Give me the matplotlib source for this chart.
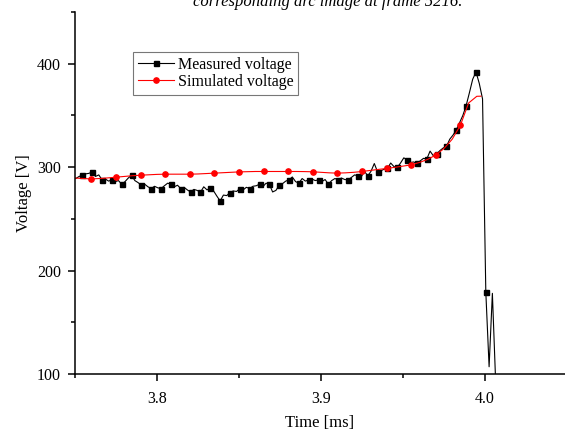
import numpy as np
import matplotlib
matplotlib.use("Agg")
import matplotlib.pyplot as plt
from matplotlib.ticker import MultipleLocator

plt.rcParams['font.family'] = ['Liberation Serif', 'DejaVu Serif']

# measured voltage: samples every 0.002 ms starting at 3.7505 ms
meas_start = 3.7505
meas_step = 0.002
meas_v = [
    289, 291, 292, 293.5, 294, 295.4, 291, 292.5, 287.7, 288.5,
    286.5, 287.7, 286, 287, 283.5, 286, 289.5, 292.2, 287, 285,
    282.5, 283.5, 281, 279.3, 281.5, 280, 279.3, 282, 284.5, 283.5,
    281, 282.5, 279.3, 280.5, 278, 276, 278.5, 277.5, 275.7, 281,
    278, 280, 277, 272, 267.3, 273, 272.5, 275.4, 277, 276.5,
    279.3, 278, 280.5, 279.3, 281.5, 282, 283.5, 281, 284.5, 283.5,
    276, 277.5, 282.5, 284, 286.5, 287.7, 290.5, 286, 284.5, 289,
    286.5, 287.7, 288.5, 287, 287.7, 286, 288, 283.5, 287, 289,
    287.7, 289.5, 288, 287.7, 290, 292.5, 291.6, 290.5, 296, 291.6,
    296, 303.5, 295.4, 296.5, 298, 298.7, 304, 300.5, 299.7, 304,
    309, 307.1, 304.5, 305, 303.6, 306, 308.5, 307.8, 315.5, 311,
    312.5, 316, 318.5, 320, 327, 331, 336, 343, 350, 359.5,
    372, 385, 392, 381, 366, 179, 107, 178, 92,
]
meas_t = meas_start + meas_step * np.arange(len(meas_v))

# simulated voltage: every 0.005 ms plus the end point
sim_t = list(np.round(np.arange(3.75, 3.9951, 0.005), 4)) + [3.9975]
sim_v = [
    289.5, 289.0, 288.6, 289.0, 289.6, 290.3, 291.0, 291.7, 292.2, 292.6,
    293.0, 293.2, 293.2, 293.2, 293.2, 293.4, 293.8, 294.2, 294.6, 295.0,
    295.4, 295.6, 295.8, 295.8, 295.8, 295.8, 295.8, 295.8, 295.7, 295.5,
    295.0, 294.5, 294.2, 294.5, 295.0, 295.8, 296.8, 297.8, 298.7, 299.8,
    301.0, 302.2, 304.5, 307.5, 311.7, 318.0, 327.0, 340.5, 362.0, 368.5,
    368.6,
]

fig = plt.figure(figsize=(5.65, 4.30), dpi=100)
ax = fig.add_axes([75 / 565, 56 / 430, 490 / 565, 362 / 430])

ax.plot(meas_t, meas_v, color='black', lw=0.8, marker='s', ms=3.6,
        markevery=list(range(2, 126, 3)), label='Measured voltage')
ax.plot(sim_t, sim_v, color='red', lw=0.8, marker='o', ms=3.8,
        markevery=list(range(2, 48, 3)), label='Simulated voltage')

ax.set_xlim(3.75, 3.75 + 490 / 1640)
ax.set_ylim(100, 450)
ax.xaxis.set_major_locator(MultipleLocator(0.1))
ax.xaxis.set_minor_locator(MultipleLocator(0.05))
ax.yaxis.set_major_locator(MultipleLocator(100))
ax.yaxis.set_minor_locator(MultipleLocator(50))
ax.xaxis.set_major_formatter(matplotlib.ticker.FormatStrFormatter('%.1f'))

ax.spines['top'].set_visible(False)
ax.spines['right'].set_visible(False)
for s in ('left', 'bottom'):
    ax.spines[s].set_linewidth(1.1)
ax.tick_params(which='major', direction='out', length=5, width=1.1,
               labelsize=11.5, pad=5)
ax.tick_params(axis='x', which='major', pad=7)
ax.tick_params(which='minor', direction='out', length=3, width=1.1)

ax.set_xlabel('Time [ms]', fontsize=12, labelpad=6)
ax.set_ylabel('Voltage [V]', fontsize=12, labelpad=4)

leg = ax.legend(loc='upper left', bbox_to_anchor=(0.118, 0.889),
                borderaxespad=0, fancybox=False, fontsize=11.5,
                handlelength=2.3, handletextpad=0.2, labelspacing=0.05,
                borderpad=0.3)
leg.get_frame().set_edgecolor('#555555')
leg.get_frame().set_linewidth(0.8)

fig.text(0.58, 1 - 6 / 430, 'corresponding arc image at frame 5216.',
         style='italic', fontsize=12, ha='center', va='baseline')

fig.savefig('out.png', dpi=100)
